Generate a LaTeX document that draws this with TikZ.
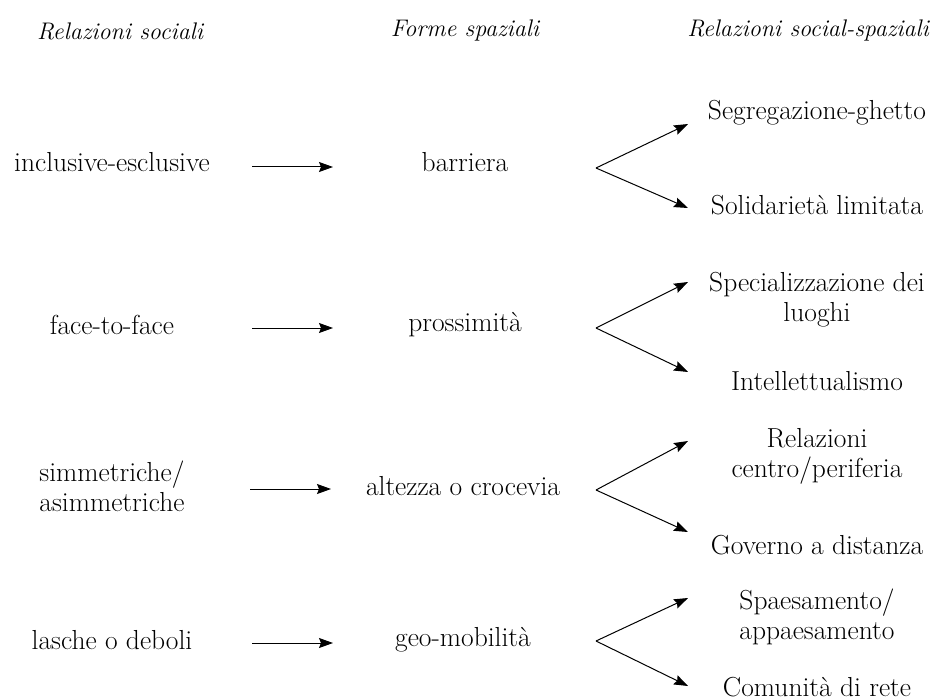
\documentclass[tikz,border=0pt]{standalone}
\usetikzlibrary{arrows.meta}
\begin{document}
\begin{tikzpicture}[x=1pt,y=-1pt,
  txt/.style={font=\fontsize{27.5}{30}\selectfont, align=center, inner sep=0pt},
  hdr/.style={txt, font=\fontsize{24}{30}\selectfont\itshape},
  arr/.style={line width=1pt, -{Stealth[length=14pt,width=10pt,inset=2pt]}}]
\useasboundingbox (0,0) rectangle (941,700);
% headers
\node[hdr] (h1) at (120,31) {Relazioni sociali};
\node[hdr] (h2) at (465,31) {Forme spaziali};
\node[hdr] (h3) at (808,31) {Relazioni social-spaziali};
% left column
\node[txt] (l1) at (112,162) {inclusive-esclusive};
\node[txt] (l2) at (112,325) {face-to-face};
\node[txt] (l3) at (112,486) {simmetriche/\\asimmetriche};
\node[txt] (l4) at (112,640) {lasche o deboli};
% middle column
\node[txt] (m1) at (465,162) {barriera};
\node[txt] (m2) at (465,325) {prossimità};
\node[txt] (m3) at (463,486) {altezza o crocevia};
\node[txt] (m4) at (463,640) {geo-mobilità};
% right column
\node[txt] (r1a) at (817,113) {Segregazione-ghetto};
\node[txt] (r1b) at (817,205) {Solidarietà limitata};
\node[txt] (r2a) at (817,300) {Specializzazione dei\\luoghi};
\node[txt] (r2b) at (817,381) {Intellettualismo};
\node[txt] (r3a) at (817,456) {Relazioni\\centro/periferia};
\node[txt] (r3b) at (817,545) {Governo a distanza};
\node[txt] (r4a) at (817,617) {Spaesamento/\\appaesamento};
\node[txt] (r4b) at (817,687) {Comunità di rete};
% horizontal arrows
\foreach \i/\y/\xs/\xe in {1/167/252/333, 2/328/252/333, 3/489/250/331, 4/643/252/333}{
  \coordinate (s\i) at (\xs,\y);
  \coordinate (e\i) at (\xe,\y);
  \draw[arr] (s\i) -- (e\i);
}
% forks
\foreach \i/\v/\u/\d in {1/168/124/208, 2/328/282/372, 3/490/441/532, 4/641/598/686}{
  \coordinate (v\i) at (596,\v);
  \coordinate (u\i) at (688,\u);
  \coordinate (d\i) at (688,\d);
  \draw[arr] (v\i) -- (u\i);
  \draw[arr] (v\i) -- (d\i);
}
\end{tikzpicture}
\end{document}
